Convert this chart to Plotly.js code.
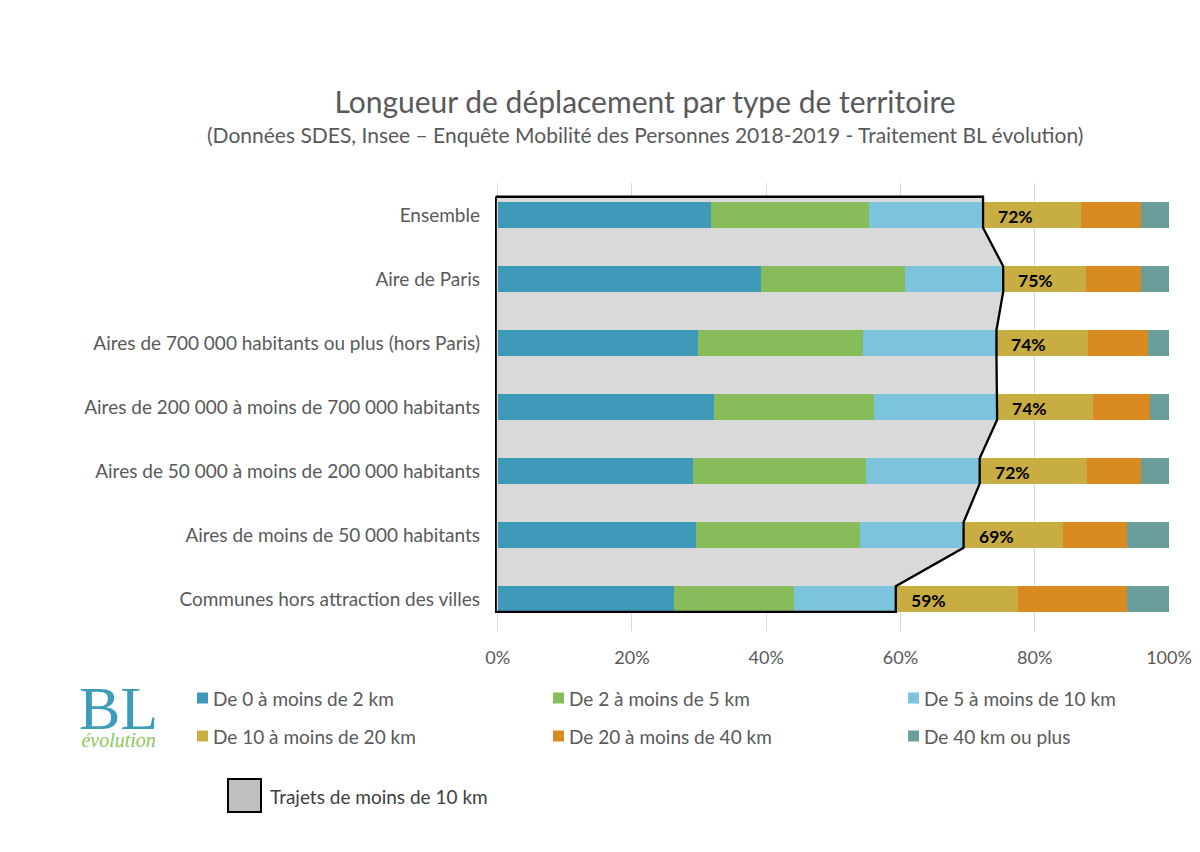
<!DOCTYPE html>
<html>
<head>
<meta charset="utf-8">
<script src="https://cdn.plot.ly/plotly-3.0.1.min.js"></script>
<style>html,body{margin:0;padding:0;background:#fff;}#chart{width:1200px;height:852px;}</style>
</head>
<body>
<div id="chart"></div>
<script>
// ---- Data ----
const categories = [
  "Ensemble",
  "Aire de Paris",
  "Aires de 700 000 habitants ou plus (hors Paris)",
  "Aires de 200 000 à moins de 700 000 habitants",
  "Aires de 50 000 à moins de 200 000 habitants",
  "Aires de moins de 50 000 habitants",
  "Communes hors attraction des villes"
];
const seriesNames = [
  "De 0 à moins de 2 km",
  "De 2 à moins de 5 km",
  "De 5 à moins de 10 km",
  "De 10 à moins de 20 km",
  "De 20 à moins de 40 km",
  "De 40 km ou plus"
];
const d0_2   = [31.8, 39.2, 29.8, 32.2, 29.1, 29.6, 26.3];
const d2_5   = [23.5, 21.5, 24.6, 23.9, 25.7, 24.4, 17.9];
const d5_10  = [17.0, 14.6, 19.9, 18.3, 17.0, 15.4, 15.1];
const d10_20 = [14.6, 12.3, 13.7, 14.3, 16.0, 14.8, 18.2];
const d20_40 = [ 8.9,  8.3,  8.8,  8.4,  8.1,  9.6, 16.3];
const d40p   = [ 4.2,  4.1,  3.2,  2.9,  4.1,  6.2,  6.2];
const shortTripLabels = ["72%", "75%", "74%", "74%", "72%", "69%", "59%"];
const xTickVals = [0, 20, 40, 60, 80, 100];
const xTickText = ["0%", "20%", "40%", "60%", "80%", "100%"];

// ---- Styles ----
const colors = ["#3f9aba", "#86bd5a", "#7cc3dc", "#c8ae42", "#d98b21", "#6a9e9b"];
const FONT = "Lato, 'Open Sans', sans-serif";
const TXT = "#595959";

const W = 1200, H = 852;
const M = {l: 495, r: 31, t: 183, b: 221};
const PW = W - M.l - M.r, PH = H - M.t - M.b;
const px = x => (x - M.l) / PW;
const py = y => (H - M.b - y) / PH;

const n = categories.length;
const pos = categories.map((c, i) => n - 1 - i); // Ensemble on top
const series = [d0_2, d2_5, d5_10, d10_20, d20_40, d40p];
const cum10 = categories.map((c, i) => d0_2[i] + d2_5[i] + d5_10[i]);

const traces = series.map((vals, k) => ({
  type: "bar",
  orientation: "h",
  name: seriesNames[k],
  x: vals,
  y: pos,
  width: 0.4,
  marker: {color: colors[k], line: {width: 0}},
  hoverinfo: "x+name",
  showlegend: false
}));

// Outline of the "< 10 km" area
const halfBar = 0.2, topExtra = 0.285, left = -0.3;
const ox = [left], oy = [pos[0] + topExtra];
ox.push(cum10[0]); oy.push(pos[0] + topExtra);
ox.push(cum10[0]); oy.push(pos[0] - halfBar);
for (let i = 1; i < n; i++) {
  ox.push(cum10[i]); oy.push(pos[i] + halfBar);
  ox.push(cum10[i]); oy.push(pos[i] - halfBar);
}
ox.push(left); oy.push(pos[n - 1] - halfBar);
ox.push(left); oy.push(pos[0] + topExtra);

traces.push({
  type: "scatter", mode: "lines", x: ox, y: oy,
  line: {color: "#000", width: 2.3},
  hoverinfo: "skip", showlegend: false
});

let path = "M " + ox.map((x, i) => x + "," + oy[i]).join(" L ") + " Z";

const shapes = [{
  type: "path", xref: "x", yref: "y", path: path,
  fillcolor: "#d9d9d9", line: {width: 0}, layer: "between"
}];

const annotations = [];
// short-trip labels
cum10.forEach((c, i) => {
  annotations.push({
    x: c, y: pos[i], xref: "x", yref: "y", text: "<b>" + shortTripLabels[i] + "</b>",
    showarrow: false, xanchor: "left", yanchor: "middle", xshift: 13, yshift: -1,
    font: {family: FONT, size: 17.5, color: "#000"}
  });
});

// subtitle
annotations.push({
  x: px(645), y: py(134), xref: "paper", yref: "paper", showarrow: false,
  xanchor: "center", yanchor: "middle",
  text: "(Données SDES, Insee – Enquête Mobilité des Personnes 2018-2019 - Traitement BL évolution)",
  font: {family: FONT, size: 21, color: TXT}
});

// legend
const legCols = [197, 553, 908], legRows = [698, 736];
seriesNames.forEach((name, k) => {
  const cx = legCols[k % 3], cy = legRows[Math.floor(k / 3)];
  shapes.push({
    type: "rect", xref: "paper", yref: "paper",
    x0: px(cx), x1: px(cx + 11), y0: py(cy - 5.5), y1: py(cy + 5.5),
    fillcolor: colors[k], line: {width: 0}
  });
  annotations.push({
    x: px(cx + 14), y: py(cy), xref: "paper", yref: "paper", showarrow: false,
    xanchor: "left", yanchor: "middle", text: name,
    font: {family: FONT, size: 19, color: TXT}
  });
});
shapes.push({
  type: "rect", xref: "paper", yref: "paper",
  x0: px(228), x1: px(261), y0: py(812), y1: py(779),
  fillcolor: "#bfbfbf", line: {width: 2, color: "#000"}
});
annotations.push({
  x: px(268), y: py(796), xref: "paper", yref: "paper", showarrow: false,
  xanchor: "left", yanchor: "middle", text: "Trajets de moins de 10 km",
  font: {family: FONT, size: 19, color: "#404040"}
});

// logo (single text block)
annotations.push({
  x: px(119), y: py(712), xref: "paper", yref: "paper", showarrow: false,
  xanchor: "center", yanchor: "middle",
  text: "<span style='font-size:62px;font-family:Liberation Serif,DejaVu Serif,serif;fill:#3d9cba'>BL</span><br>" +
        "<span style='font-size:20px;font-family:Liberation Serif,serif;fill:#8cc85a'><i>évolution</i></span>",
  font: {family: "'Liberation Serif', serif", size: 14, color: "#3d9cba"}
});

const layout = {
  width: W, height: H,
  margin: M,
  paper_bgcolor: "#fff", plot_bgcolor: "#fff",
  barmode: "stack",
  showlegend: false,
  font: {family: FONT, color: TXT},
  title: {
    text: "Longueur de déplacement par type de territoire",
    xref: "container", yref: "container", x: 645 / W, y: 1 - 102 / H,
    xanchor: "center", yanchor: "middle",
    font: {family: FONT, size: 30, color: TXT}
  },
  xaxis: {
    range: [-0.4, 100], tickvals: xTickVals, ticktext: xTickText,
    showgrid: true, gridcolor: "#d9d9d9", gridwidth: 1, zeroline: false,
    showline: false, ticks: "", ticklabelstandoff: 14,
    tickfont: {family: FONT, size: 18, color: TXT}, fixedrange: true
  },
  yaxis: {
    range: [-0.5, 6.5], tickvals: pos, ticktext: categories,
    showgrid: false, zeroline: false, showline: false, ticks: "",
    ticklabelstandoff: 14,
    tickfont: {family: FONT, size: 19, color: TXT}, fixedrange: true
  },
  shapes: shapes,
  annotations: annotations
};

Plotly.newPlot("chart", traces, layout, {displayModeBar: false, staticPlot: true});
</script>
</body>
</html>
